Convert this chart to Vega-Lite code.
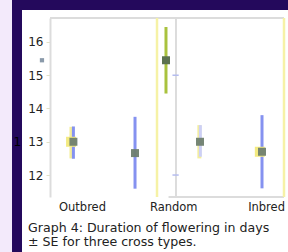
{
  "$schema": "https://vega.github.io/schema/vega-lite/v6.json",
  "width": 234,
  "height": 179,
  "autosize": "none",
  "padding": {"left": 50, "top": 18, "right": 4, "bottom": 55},
  "background": "white",
  "config": {"view": {"stroke": null}, "font": "DejaVu Sans"},
  "title": {
    "text": ["Graph 4: Duration of flowering in days", "± SE for three cross types."],
    "orient": "bottom",
    "anchor": "start",
    "frame": "group",
    "dx": -22,
    "offset": -30,
    "fontSize": 12.6,
    "fontWeight": "normal",
    "font": "DejaVu Sans",
    "color": "#222222",
    "lineHeight": 14
  },
  "datasets": {
    "lavender": [{"x": -0.7, "x2": -0.487, "y": 9.68, "y2": 17.5}],
    "navy": [
      {"x": -0.487, "x2": -0.359, "y": 9.68, "y2": 17.5},
      {"x": -0.487, "x2": 3.2, "y": 16.96, "y2": 17.5}
    ],
    "grayH": [
      {"x": 0, "x2": 3.0, "y": 16.72},
      {"x": 1.52, "x2": 3.0, "y": 11.34}
    ],
    "grayV": [{"x": 1.615, "y": 11.34, "y2": 16.72}],
    "ticks2": [{"x": 1.57, "x2": 1.65, "y": 15}, {"x": 1.57, "x2": 1.65, "y": 12}],
    "yellowV": [{"x": 1.372, "y": 11.34, "y2": 16.72}, {"x": 3.0, "y": 11.34, "y2": 16.72}],
    "yellowErr": [
      {"x": 0.275, "lo": 12.5, "hi": 13.45},
      {"x": 1.915, "lo": 12.5, "hi": 13.5}
    ],
    "blueErr": [
      {"x": 0.3, "lo": 12.49, "hi": 13.46},
      {"x": 1.09, "lo": 11.59, "hi": 13.75},
      {"x": 2.718, "lo": 11.6, "hi": 13.8}
    ],
    "paleErr": [{"x": 1.928, "lo": 12.55, "hi": 13.5}],
    "greenErr": [{"x": 1.487, "lo": 14.45, "hi": 16.45}],
    "halo": [
      {"x": 0.27, "y": 13.0},
      {"x": 2.69, "y": 12.7}
    ],
    "points": [
      {"x": 0.3, "y": 13.0},
      {"x": 1.09, "y": 12.66},
      {"x": 1.923, "y": 13.0},
      {"x": 2.718, "y": 12.7}
    ],
    "greenPt": [{"x": 1.487, "y": 15.45}],
    "smallPt": [{"x": -0.103, "y": 15.45}],
    "labels": [{"x": -0.42, "y": 13.0, "t": "1"}]
  },
  "layer": [
    {
      "data": {"name": "lavender"},
      "mark": {"type": "rect", "color": "#f3eafb"},
      "encoding": {
        "x": {"field": "x", "type": "quantitative", "scale": {"domain": [0, 3], "nice": false, "zero": false},
          "axis": {"values": [0.41, 1.58, 2.77], "labelExpr": "datum.value < 1 ? 'Outbred' : datum.value < 2 ? 'Random' : 'Inbred'", "ticks": false, "domain": false, "grid": false, "title": null, "labelFontSize": 11.5, "labelColor": "#222222", "labelPadding": 4, "labelFont": "DejaVu Sans"}},
        "x2": {"field": "x2"},
        "y": {"field": "y", "type": "quantitative", "scale": {"domain": [11.34, 16.72], "nice": false, "zero": false},
          "axis": {"values": [12, 13, 14, 15, 16], "grid": false, "title": null, "tickColor": "#e2e2c6", "tickSize": 4, "domainColor": "#dcdcdc", "domainWidth": 2, "labelFontSize": 12, "labelColor": "#222222", "labelPadding": 3, "labelFont": "DejaVu Sans"}},
        "y2": {"field": "y2"}
      }
    },
    {
      "data": {"name": "navy"},
      "mark": {"type": "rect", "color": "#24095c"},
      "encoding": {
        "x": {"field": "x", "type": "quantitative"},
        "x2": {"field": "x2"},
        "y": {"field": "y", "type": "quantitative"},
        "y2": {"field": "y2"}
      }
    },
    {
      "data": {"name": "grayH"},
      "mark": {"type": "rule", "color": "#dcdcdc", "strokeWidth": 2},
      "encoding": {
        "x": {"field": "x", "type": "quantitative"},
        "x2": {"field": "x2"},
        "y": {"field": "y", "type": "quantitative"}
      }
    },
    {
      "data": {"name": "grayV"},
      "mark": {"type": "rule", "color": "#dcdcdc", "strokeWidth": 2},
      "encoding": {
        "x": {"field": "x", "type": "quantitative"},
        "y": {"field": "y", "type": "quantitative"},
        "y2": {"field": "y2"}
      }
    },
    {
      "data": {"name": "ticks2"},
      "mark": {"type": "rule", "color": "#b4bcee", "strokeWidth": 1.5},
      "encoding": {
        "x": {"field": "x", "type": "quantitative"},
        "x2": {"field": "x2"},
        "y": {"field": "y", "type": "quantitative"}
      }
    },
    {
      "data": {"name": "yellowV"},
      "mark": {"type": "rule", "color": "#f6f2a6", "strokeWidth": 2.5},
      "encoding": {
        "x": {"field": "x", "type": "quantitative"},
        "y": {"field": "y", "type": "quantitative"},
        "y2": {"field": "y2"}
      }
    },
    {
      "data": {"name": "yellowErr"},
      "mark": {"type": "rule", "color": "#f4ee9c", "strokeWidth": 4},
      "encoding": {
        "x": {"field": "x", "type": "quantitative"},
        "y": {"field": "lo", "type": "quantitative"},
        "y2": {"field": "hi"}
      }
    },
    {
      "data": {"name": "blueErr"},
      "mark": {"type": "rule", "color": "#8592f0", "strokeWidth": 3},
      "encoding": {
        "x": {"field": "x", "type": "quantitative"},
        "y": {"field": "lo", "type": "quantitative"},
        "y2": {"field": "hi"}
      }
    },
    {
      "data": {"name": "paleErr"},
      "mark": {"type": "rule", "color": "#cdd0f6", "strokeWidth": 3},
      "encoding": {
        "x": {"field": "x", "type": "quantitative"},
        "y": {"field": "lo", "type": "quantitative"},
        "y2": {"field": "hi"}
      }
    },
    {
      "data": {"name": "greenErr"},
      "mark": {"type": "rule", "color": "#a9c23e", "strokeWidth": 3},
      "encoding": {
        "x": {"field": "x", "type": "quantitative"},
        "y": {"field": "lo", "type": "quantitative"},
        "y2": {"field": "hi"}
      }
    },
    {
      "data": {"name": "halo"},
      "mark": {"type": "square", "color": "#f3ea80", "opacity": 1, "size": 100},
      "encoding": {
        "x": {"field": "x", "type": "quantitative"},
        "y": {"field": "y", "type": "quantitative"}
      }
    },
    {
      "data": {"name": "points"},
      "mark": {"type": "square", "color": "#6f806f", "opacity": 0.95, "size": 64},
      "encoding": {
        "x": {"field": "x", "type": "quantitative"},
        "y": {"field": "y", "type": "quantitative"}
      }
    },
    {
      "data": {"name": "greenPt"},
      "mark": {"type": "square", "color": "#5b7250", "opacity": 1, "size": 64},
      "encoding": {
        "x": {"field": "x", "type": "quantitative"},
        "y": {"field": "y", "type": "quantitative"}
      }
    },
    {
      "data": {"name": "smallPt"},
      "mark": {"type": "square", "color": "#8a9aaa", "opacity": 1, "size": 18},
      "encoding": {
        "x": {"field": "x", "type": "quantitative"},
        "y": {"field": "y", "type": "quantitative"}
      }
    },
    {
      "data": {"name": "labels"},
      "mark": {"type": "text", "color": "#000000", "fontSize": 12, "font": "DejaVu Sans", "align": "center", "baseline": "middle"},
      "encoding": {
        "x": {"field": "x", "type": "quantitative"},
        "y": {"field": "y", "type": "quantitative"},
        "text": {"field": "t"}
      }
    }
  ]
}
